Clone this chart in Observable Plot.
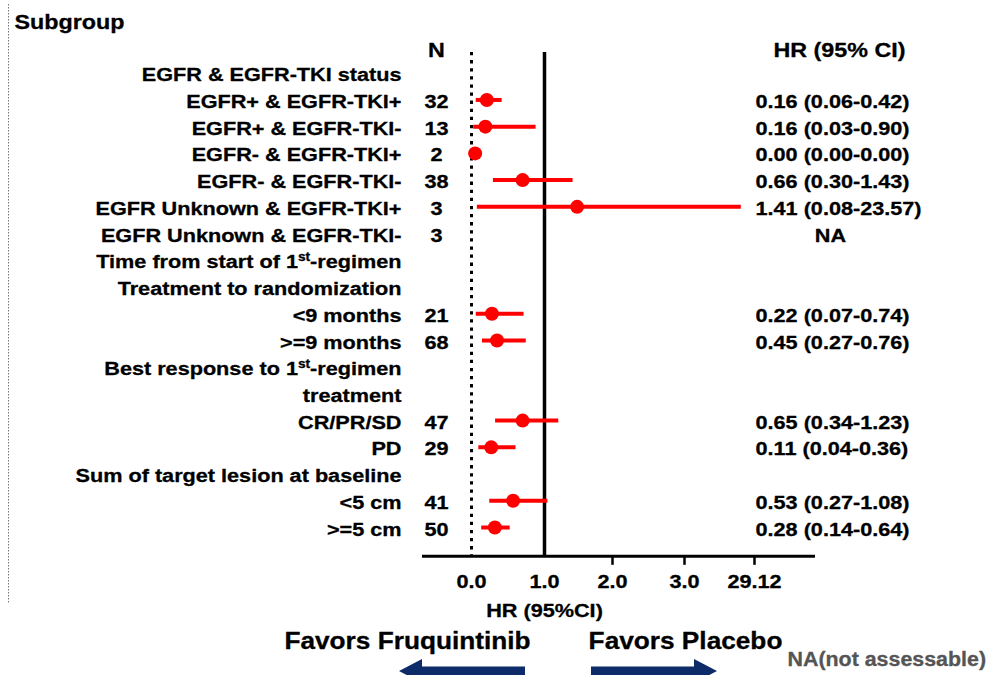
<!DOCTYPE html>
<html>
<head>
<meta charset="utf-8">
<script src="https://cdn.jsdelivr.net/npm/d3@7"></script>
<script src="https://cdn.jsdelivr.net/npm/@observablehq/plot@0.6"></script>
<style>
  body { margin: 0; background: #fff; }
  #chart { width: 986px; height: 675px; }
</style>
</head>
<body>
<div id="chart"></div>
<script>
// ---- data ----
const subgroups = [
  "EGFR & EGFR-TKI status",
  "EGFR+ & EGFR-TKI+",
  "EGFR+ & EGFR-TKI-",
  "EGFR- & EGFR-TKI+",
  "EGFR- & EGFR-TKI-",
  "EGFR Unknown & EGFR-TKI+",
  "EGFR Unknown & EGFR-TKI-",
  "Time from start of 1st-regimen",
  "Treatment to randomization",
  "<9 months",
  ">=9 months",
  "Best response to 1st-regimen",
  "treatment",
  "CR/PR/SD",
  "PD",
  "Sum of target lesion at baseline",
  "<5 cm",
  ">=5 cm"
];
const nValues = ["", "32", "13", "2", "38", "3", "3", "", "", "21", "68", "", "", "47", "29", "", "41", "50"];
const hrLabels = ["", "0.16 (0.06-0.42)", "0.16 (0.03-0.90)", "0.00 (0.00-0.00)", "0.66 (0.30-1.43)",
  "1.41 (0.08-23.57)", "NA", "", "", "0.22 (0.07-0.74)", "0.45 (0.27-0.76)", "", "",
  "0.65 (0.34-1.23)", "0.11 (0.04-0.36)", "", "0.53 (0.27-1.08)", "0.28 (0.14-0.64)"];
// marker and whisker positions as drawn in the picture (HR units)
const hrPoint = [null, 0.21, 0.19, 0.05, 0.70, 1.48, null, null, null, 0.28, 0.35, null, null, 0.70, 0.27, null, 0.57, 0.32];
const ciLower = [null, 0.065, 0.03, null, 0.30, 0.08, null, null, null, 0.065, 0.15, null, null, 0.33, 0.10, null, 0.25, 0.14];
const ciUpper = [null, 0.42, 0.885, null, 1.42, 24.2, null, null, null, 0.72, 0.75, null, null, 1.21, 0.61, null, 1.05, 0.53];
const tickValues = [0, 1, 2, 3, 29.12];
const tickLabels = ["0.0", "1.0", "2.0", "3.0", "29.12"];

// ---- build table ----
const rows = subgroups.map((label, i) => ({
  row: i + 1, label, n: nValues[i], hr: hrLabels[i], est: hrPoint[i], lo: ciLower[i], hi: ciUpper[i]
}));
const estRows = rows.filter(d => d.est != null);
const ciRows = rows.filter(d => d.lo != null);
const hrRows = rows.filter(d => d.hr !== "" && d.hr !== "NA");
const naRows = rows.filter(d => d.hr === "NA");

const font = "'Liberation Sans', Arial, Helvetica, sans-serif";
const red = "#ff0000";
const navy = "#0c2b68";
const T = {fontWeight: "bold", fill: "black", stroke: "black", strokeWidth: 0.3};

// decorative elements: page border line and the two block arrows
const decor = () => {
  const g = d3.create("svg:g");
  g.append("line").attr("x1", 8.5).attr("x2", 8.5).attr("y1", 4).attr("y2", 603)
    .attr("stroke", "#777").attr("stroke-width", 1).attr("stroke-dasharray", "1.5,1.5");
  const yA = 671, bh = 4.5, hh = 12, hl = 23;
  const left = (tip, end) => `M${tip},${yA} L${tip + hl},${yA - hh} L${tip + hl},${yA - bh} L${end},${yA - bh} L${end},${yA + bh} L${tip + hl},${yA + bh} L${tip + hl},${yA + hh} Z`;
  const right = (start, tip) => `M${tip},${yA} L${tip - hl},${yA - hh} L${tip - hl},${yA - bh} L${start},${yA - bh} L${start},${yA + bh} L${tip - hl},${yA + bh} L${tip - hl},${yA + hh} Z`;
  g.append("path").attr("d", left(399, 525)).attr("fill", navy);
  g.append("path").attr("d", right(591, 717)).attr("fill", navy);
  return g.node();
};

const plot = Plot.plot({
  width: 986,
  height: 675,
  marginLeft: 422,
  marginRight: 171,
  marginTop: 52,
  marginBottom: 119,
  style: {fontFamily: font, background: "white", overflow: "visible"},
  x: {type: "linear", domain: tickValues, range: [471, 544, 612, 684, 754], axis: null},
  y: {type: "linear", domain: [0, 18], range: [48, 529], axis: null},
  marks: [
    decor,
    // reference lines and axis
    Plot.ruleX([0], {stroke: "black", strokeWidth: 3, strokeDasharray: "3.3,4.8"}),
    Plot.ruleX([1], {stroke: "black", strokeWidth: 3.5}),
    Plot.ruleY([19], {stroke: "black", strokeWidth: 3}),
    Plot.ruleX(tickValues.slice(2), {x: d => d, y1: () => 19, y2: () => 19.34, stroke: "black", strokeWidth: 2.5}),
    Plot.text(tickValues, {x: d => d, y: () => 19.95, text: (d, i) => tickLabels[i], fontSize: 19, ...T}),
    Plot.text(["HR (95%CI)"], {x: () => 1, y: () => 21.06, text: d => d, fontSize: 19, ...T}),
    // confidence intervals and estimates
    Plot.ruleY(ciRows, {x1: "lo", x2: "hi", y: "row", stroke: red, strokeWidth: 4, dy: -2}),
    Plot.dot(estRows, {x: "est", y: "row", r: 7, fill: red, stroke: "none", dy: -2}),
    // headers
    Plot.text(["Subgroup"], {y: () => -1, text: d => d, frameAnchor: "left", dx: -408, textAnchor: "start", fontSize: 21, ...T}),
    Plot.text(["N"], {y: () => 0, text: d => d, frameAnchor: "left", dx: 14, dy: 2, textAnchor: "middle", fontSize: 21, ...T}),
    Plot.text(["HR (95% CI)"], {y: () => 0, text: d => d, frameAnchor: "right", dx: 24, dy: 2, textAnchor: "middle", fontSize: 21, ...T}),
    // table columns
    Plot.text(rows, {y: "row", text: "label", frameAnchor: "left", dx: -21, textAnchor: "end", fontSize: 19, ...T}),
    Plot.text(rows, {y: "row", text: "n", frameAnchor: "left", dx: 14, textAnchor: "middle", fontSize: 19, ...T}),
    Plot.text(hrRows, {y: "row", text: "hr", frameAnchor: "right", dx: -60, textAnchor: "start", fontSize: 19, ...T}),
    Plot.text(naRows, {y: "row", text: "hr", frameAnchor: "right", dx: 15, textAnchor: "middle", fontSize: 19, ...T}),
    // footer
    Plot.text(["Favors Fruquintinib"], {y: () => 22.2, text: d => d, frameAnchor: "left", dx: -15, textAnchor: "middle", fontSize: 23, ...T}),
    Plot.text(["Favors Placebo"], {y: () => 22.2, text: d => d, frameAnchor: "right", dx: -130, textAnchor: "middle", fontSize: 23, ...T}),
    Plot.text(["NA(not assessable)"], {y: () => 22.87, text: d => d, frameAnchor: "right", dx: -28, textAnchor: "start", fontSize: 20, fontWeight: "bold", fill: "#555", stroke: "#555", strokeWidth: 0.3})
  ]
});

document.getElementById("chart").appendChild(plot);

// horizontal stretch of the (wide-set) bold lettering, per font size
const stretch = {19: 1.14, 21: 1.11, 23: 1.14, 20: 1.07};
for (const g of plot.querySelectorAll("[font-size]")) {
  const s = stretch[parseFloat(g.getAttribute("font-size"))];
  if (!s || s === 1) continue;
  for (const t of g.querySelectorAll("text")) {
    const x0 = parseFloat(t.getAttribute("x")) || 0;
    const tr = t.getAttribute("transform") || "";
    t.setAttribute("transform", `${tr} translate(${x0},0) scale(${s},1) translate(${-x0},0)`.trim());
  }
}
// superscript "st" in "1st-regimen"
for (const t of plot.querySelectorAll("text")) {
  if (t.children.length) continue;
  const s = t.textContent;
  const k = s.indexOf("1st-");
  if (k < 0) continue;
  t.textContent = "";
  const sel = d3.select(t);
  sel.append("tspan").text(s.slice(0, k + 1));
  sel.append("tspan").attr("dy", -7).attr("font-size", 12).text("st");
  sel.append("tspan").attr("dy", 7).text(s.slice(k + 3));
}
</script>
</body>
</html>
